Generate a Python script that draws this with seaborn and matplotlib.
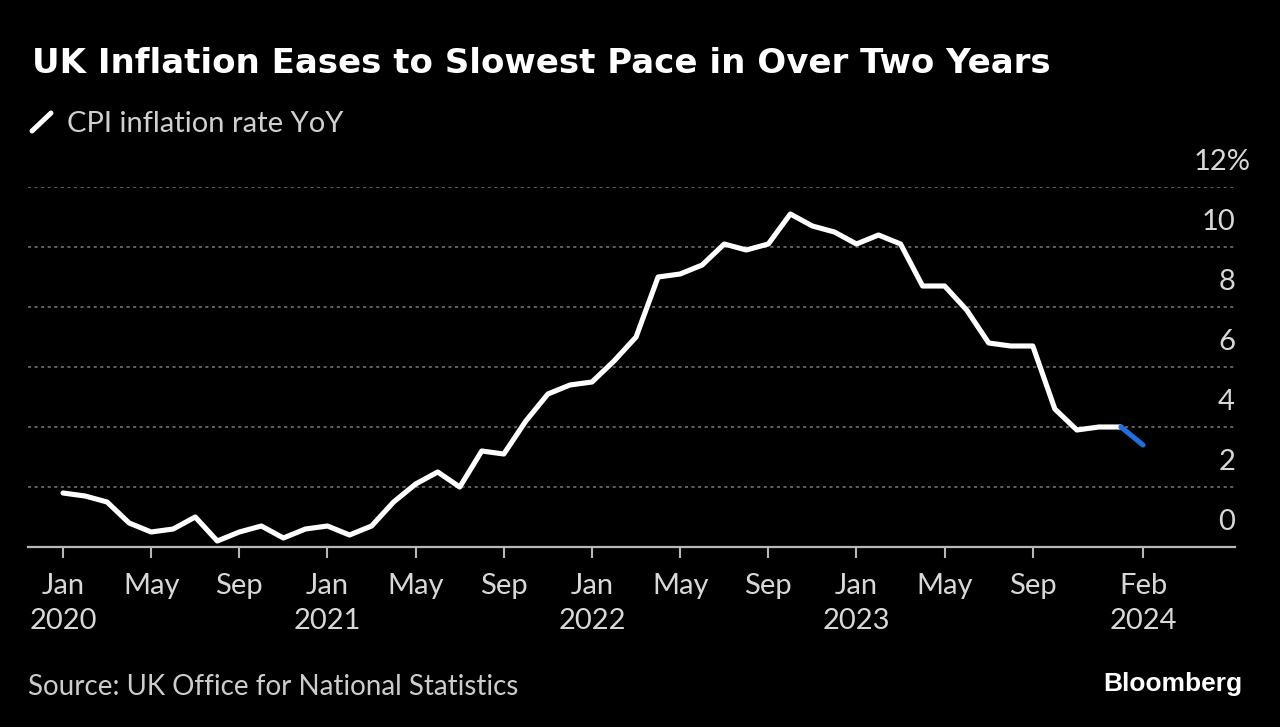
import matplotlib
matplotlib.use("Agg")
import matplotlib.pyplot as plt
import seaborn as sns
import pandas as pd
from matplotlib.transforms import ScaledTranslation
from matplotlib.lines import Line2D

# ---------------- data ----------------
month_names = ["Jan", "Feb", "Mar", "Apr", "May", "Jun",
               "Jul", "Aug", "Sep", "Oct", "Nov", "Dec"]
months = [f"{m} {y}" for y in range(2020, 2025) for m in month_names][:50]
cpi_yoy = [1.8, 1.7, 1.5, 0.8, 0.5, 0.6, 1.0, 0.2, 0.5, 0.7, 0.3, 0.6,
           0.7, 0.4, 0.7, 1.5, 2.1, 2.5, 2.0, 3.2, 3.1, 4.2, 5.1, 5.4,
           5.5, 6.2, 7.0, 9.0, 9.1, 9.4, 10.1, 9.9, 10.1, 11.1, 10.7, 10.5,
           10.1, 10.4, 10.1, 8.7, 8.7, 7.9, 6.8, 6.7, 6.7, 4.6, 3.9, 4.0,
           4.0, 3.4]
tick_months = [0, 4, 8, 12, 16, 20, 24, 28, 32, 36, 40, 44, 49]
tick_labels = ["Jan\n2020", "May", "Sep", "Jan\n2021", "May", "Sep",
               "Jan\n2022", "May", "Sep", "Jan\n2023", "May", "Sep",
               "Feb\n2024"]
y_ticks = [0, 2, 4, 6, 8, 10, 12]
y_tick_labels = ["0", "2", "4", "6", "8", "10", "12%"]

title = "UK Inflation Eases to Slowest Pace in Over Two Years"
series_name = "CPI inflation rate YoY"
source = "Source: UK Office for National Statistics"

# ---------------- style ----------------
W, H = 1280, 727
sns.set_style("dark", {"axes.facecolor": "black", "figure.facecolor": "black"})
plt.rcParams['font.family'] = ['Lato', 'DejaVu Sans']

fig = plt.figure(figsize=(W / 100, H / 100), dpi=100, facecolor='black')
ax = fig.add_axes([28 / W, (H - 547) / H, (1235 - 28) / W, (547 - 187) / H])
ax.set_facecolor('black')

df = pd.DataFrame({"idx": range(len(cpi_yoy)), "cpi": cpi_yoy, "month": months})

sns.lineplot(data=df.iloc[:-1], x="idx", y="cpi", color="white", lw=3.7,
             ax=ax, solid_capstyle="round", solid_joinstyle="round", zorder=4)
sns.lineplot(data=df.iloc[-2:], x="idx", y="cpi", color="#1f6fe0", lw=3.7,
             ax=ax, solid_capstyle="round", zorder=5)

px_per_month = (1143 - 63) / 49
ax.set_xlim((28 - 63) / px_per_month, (1235 - 63) / px_per_month)
ax.set_ylim(0, 12)
ax.set_xlabel("")
ax.set_ylabel("")

for s in ["top", "left", "right"]:
    ax.spines[s].set_visible(False)
ax.spines["bottom"].set_color("#b8b8b8")
ax.spines["bottom"].set_linewidth(1.6)

ax.set_xticks(tick_months)
ax.set_xticklabels(tick_labels, linespacing=1.4)
ax.tick_params(axis="x", bottom=True, length=8, width=1.5, color="#b8b8b8",
               pad=11, labelsize=21, labelcolor="#d8d8d8")

ax.yaxis.tick_right()
ax.set_yticks(y_ticks)
ax.set_yticklabels(y_tick_labels)
ax.tick_params(axis="y", right=True, length=0, pad=0, labelsize=21,
               labelcolor="#d8d8d8")
for lab in ax.get_yticklabels():
    lab.set_ha("right")
    lab.set_va("baseline")
    dx = 16 / 100 if lab.get_text().endswith("%") else 0
    lab.set_transform(lab.get_transform() +
                      ScaledTranslation(dx, 17 / 100, fig.dpi_scale_trans))

ax.grid(False)
ax.grid(axis="y", color="#7a7a7a", linestyle=(0, (2, 2.3)), linewidth=1.1)
ax.set_axisbelow(True)

# ---------------- texts ----------------
fig.text(32 / W, 1 - 73 / H, title, fontsize=24.5, weight="bold",
         family="DejaVu Sans", color="white", va="baseline")
fig.add_artist(Line2D([32 / W, 51 / W], [1 - 131 / H, 1 - 113 / H],
                      transform=fig.transFigure, color="white", lw=3.6,
                      solid_capstyle="round"))
fig.text(67 / W, 1 - 132 / H, series_name, fontsize=21, color="#d0d0d0",
         va="baseline")
fig.text(28 / W, 1 - 695 / H, source, fontsize=20, color="#cccccc",
         va="baseline")
fig.text(1242 / W, 1 - 691 / H, "Bloomberg", fontsize=19, weight="bold",
         family="Liberation Sans", color="white", ha="right", va="baseline")

fig.savefig("out.png", dpi=100, facecolor="black")
